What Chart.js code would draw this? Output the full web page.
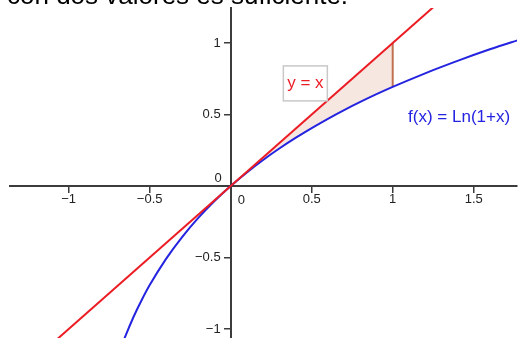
<!DOCTYPE html>
<html>
<head>
<meta charset="utf-8">
<script src="https://cdn.jsdelivr.net/npm/chart.js@4/dist/chart.umd.min.js"></script>
<style>
  html, body { margin: 0; padding: 0; background: #fff; }
  #wrap { position: relative; width: 519px; height: 338px; }
</style>
</head>
<body>
<div id="wrap"><canvas id="c"></canvas></div>
<script>
// f(x) = Ln(1+x)
const lnX = [-0.7, -0.68, -0.65, -0.6, -0.55, -0.5, -0.4, -0.3, -0.2, -0.1, 0, 0.1, 0.2, 0.3, 0.4, 0.5, 0.6, 0.7, 0.8, 0.9, 1, 1.2, 1.4, 1.6, 1.8];
const lnY = [-1.204, -1.139, -1.05, -0.916, -0.799, -0.693, -0.511, -0.357, -0.223, -0.105, 0, 0.095, 0.182, 0.262, 0.336, 0.405, 0.47, 0.531, 0.588, 0.642, 0.693, 0.788, 0.875, 0.956, 1.03];
// y = x
const idX = [-1.4, 1.4];
const idY = [-1.4, 1.4];
// shaded part between 0 and 1, top edge
const areaX = [0, 1];
const areaTopY = [0, 1];
// gap at x = 1
const gapX = [1, 1];
const gapY = [0.693, 1];

const xTicks = [-1, -0.5, 0, 0.5, 1, 1.5];
const xTickLabels = ['−1', '−0.5', '', '0.5', '1', '1.5'];
const yTicks = [-1, -0.5, 0, 0.5, 1];
const yTickLabels = ['−1', '−0.5', '', '0.5', '1'];

const caption = 'con dos valores es suficiente.';
const idLabel = 'y = x';
const lnLabel = 'f(x) = Ln(1+x)';
const zeroLabel = '0';

const axisColor = '#3c3c3c';
const red = '#ec1c24';
const blue = '#2424e0';
const font = "'Liberation Sans', Arial, sans-serif";

const pts = (xs, ys) => xs.map((x, i) => ({x: x, y: ys[i]}));
const lnPts = pts(lnX, lnY);
const areaBottom = lnPts.filter(p => p.x >= areaX[0] && p.x <= areaX[1]);

const labels = {
    id: 'labels',
    afterDraw(chart) {
        const ctx = chart.ctx;
        const xs = chart.scales.x, ys = chart.scales.y;
        const ox = xs.getPixelForValue(0), oy = ys.getPixelForValue(0);
        ctx.save();
        // caption cut off at the top
        ctx.fillStyle = '#000';
        ctx.font = '26px ' + font;
        ctx.textAlign = 'left';
        ctx.textBaseline = 'alphabetic';
        ctx.fillText(caption, 7, 4);

        // y tick labels, left of the axis
        ctx.fillStyle = '#222';
        ctx.font = '13px ' + font;
        ctx.textAlign = 'right';
        ctx.textBaseline = 'middle';
        yTicks.forEach((v, i) => {
            ctx.fillText(yTickLabels[i], ox - 10, ys.getPixelForValue(v));
        });

        // the two zeros
        ctx.fillText(zeroLabel, ox - 9, oy - 8);
        ctx.textAlign = 'left';
        ctx.textBaseline = 'top';
        ctx.fillText(zeroLabel, ox + 7, oy + 8);

        // y = x box
        const bx = xs.getPixelForValue(0.325), by = ys.getPixelForValue(0.84);
        ctx.fillStyle = '#fff';
        ctx.fillRect(bx, by, 44, 35);
        ctx.strokeStyle = '#c8c8c8';
        ctx.lineWidth = 1.5;
        ctx.strokeRect(bx, by, 44, 35);
        ctx.fillStyle = red;
        ctx.font = '17px ' + font;
        ctx.textAlign = 'center';
        ctx.textBaseline = 'alphabetic';
        ctx.fillText(idLabel, bx + 22, by + 22);

        // f(x) label
        ctx.fillStyle = blue;
        ctx.textAlign = 'left';
        ctx.fillText(lnLabel, xs.getPixelForValue(1.095), ys.getPixelForValue(0.45));
        ctx.restore();
    }
};

new Chart(document.getElementById('c'), {
    type: 'line',
    data: {
        datasets: [
            {
                data: pts(areaX, areaTopY),
                borderWidth: 0,
                pointRadius: 0,
                fill: false,
                order: 5
            },
            {
                data: areaBottom,
                borderWidth: 0,
                pointRadius: 0,
                cubicInterpolationMode: 'monotone',
                fill: '-1',
                backgroundColor: '#f6e7e1',
                order: 4
            },
            {
                data: pts(gapX, gapY),
                borderColor: '#c0704f',
                borderWidth: 2,
                pointRadius: 0,
                order: 3
            },
            {
                data: lnPts,
                borderColor: blue,
                borderWidth: 2,
                pointRadius: 0,
                cubicInterpolationMode: 'monotone',
                order: 2
            },
            {
                data: pts(idX, idY),
                borderColor: red,
                borderWidth: 2,
                pointRadius: 0,
                order: 1
            }
        ]
    },
    options: {
        responsive: true,
        maintainAspectRatio: false,
        animation: false,
        events: [],
        layout: { padding: { left: 10, right: 2, top: 8, bottom: 0 } },
        plugins: { legend: { display: false }, tooltip: { enabled: false } },
        scales: {
            x: {
                type: 'linear',
                position: { y: 0 },
                min: -1.3623,
                max: 1.7673,
                afterBuildTicks: s => { s.ticks = xTicks.map(v => ({value: v})); },
                afterFit: s => { s.paddingLeft = 0; s.paddingRight = 0; s.paddingTop = 0; s.paddingBottom = 0; },
                ticks: {
                    autoSkip: false,
                    maxRotation: 0,
                    padding: 0,
                    color: '#222',
                    font: { family: font, size: 13 },
                    callback: (v) => xTickLabels[xTicks.indexOf(v)]
                },
                grid: { drawOnChartArea: false, color: axisColor, tickLength: 6, lineWidth: 1.5 },
                border: { color: axisColor, width: 2 }
            },
            y: {
                type: 'linear',
                position: { x: 0 },
                min: -1.0629,
                max: 1.2448,
                afterBuildTicks: s => { s.ticks = yTicks.map(v => ({value: v})); },
                afterFit: s => { s.paddingLeft = 0; s.paddingRight = 0; s.paddingTop = 0; s.paddingBottom = 0; },
                ticks: { display: false },
                grid: { drawOnChartArea: false, color: axisColor, tickLength: 6, lineWidth: 1.5 },
                border: { color: axisColor, width: 2 }
            }
        }
    },
    plugins: [labels]
});
</script>
</body>
</html>
